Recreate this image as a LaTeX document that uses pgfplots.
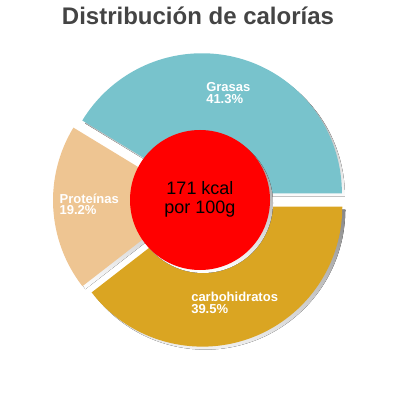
\documentclass[border=0pt]{standalone}
\usepackage{fontspec}
\setmainfont{Liberation Sans}
\usepackage{pgfplots}
\usepackage{pgfplotstable}
\pgfplotsset{compat=1.18}

\definecolor{grasas}{RGB}{120,195,204}
\definecolor{proteinas}{RGB}{238,197,146}
\definecolor{carbos}{RGB}{218,165,34}
\definecolor{shade}{RGB}{100,100,100}
\definecolor{titlegray}{RGB}{68,68,68}

% slice, share in %, label anchor (px, y down)
\pgfplotstableread[col sep=comma]{
name,value,lx,ly,col
Grasas,41.3,206,91.7,grasas
Proteínas,19.2,59.3,203.3,proteinas
carbohidratos,39.5,191,301.7,carbos
}\kcaltable

% 1 px = 0.25mm
\def\R{35mm}
\def\explode{1.75mm}

\begin{document}
\begin{tikzpicture}
% cumulative angles from the shares
\xdef\acc{0}
\foreach \i in {0,1,2}{
  \pgfplotstablegetelem{\i}{value}\of\kcaltable
  \let\v\pgfplotsretval
  \pgfmathsetmacro\sweep{\v*3.6}
  \pgfmathsetmacro\endang{\acc+\sweep}
  \pgfmathsetmacro\midang{\acc+\sweep/2}
  \expandafter\xdef\csname sA\i\endcsname{\acc}
  \expandafter\xdef\csname eA\i\endcsname{\endang}
  \expandafter\xdef\csname mA\i\endcsname{\midang}
  \expandafter\xdef\csname val\i\endcsname{\v}
  \pgfplotstablegetelem{\i}{name}\of\kcaltable
  \expandafter\xdef\csname nm\i\endcsname{\pgfplotsretval}
  \pgfplotstablegetelem{\i}{lx}\of\kcaltable
  \expandafter\xdef\csname lx\i\endcsname{\pgfplotsretval}
  \pgfplotstablegetelem{\i}{ly}\of\kcaltable
  \expandafter\xdef\csname ly\i\endcsname{\pgfplotsretval}
  \pgfplotstablegetelem{\i}{col}\of\kcaltable
  \expandafter\xdef\csname cl\i\endcsname{\pgfplotsretval}
  \xdef\acc{\endang}
}
\begin{axis}[
    width=100mm, height=100mm,
    scale only axis,
    xmin=0, xmax=400, ymin=0, ymax=400,
    y dir=reverse,
    hide axis,
    clip=false,
]
\path (axis cs:0,0) rectangle (axis cs:400,400);
% shadows
\pgfplotsinvokeforeach{0,1,2}{
  \fill[shade] (axis cs:200,200) ++(\csname mA#1\endcsname:\explode) ++(0.75mm,-0.75mm)
    -- ++(\csname sA#1\endcsname:\R)
    arc[start angle=\csname sA#1\endcsname, end angle=\csname eA#1\endcsname, radius=\R] -- cycle;
}
% slices
\pgfplotsinvokeforeach{0,1,2}{
  \fill[color=\csname cl#1\endcsname] (axis cs:200,200) ++(\csname mA#1\endcsname:\explode)
    -- ++(\csname sA#1\endcsname:\R)
    arc[start angle=\csname sA#1\endcsname, end angle=\csname eA#1\endcsname, radius=\R] -- cycle;
}
% centre disc
\fill[shade] (axis cs:200,200) ++(0.75mm,-0.75mm) circle[radius=17.5mm];
\fill[red] (axis cs:200,200) circle[radius=17.5mm];
% slice labels
\pgfplotsinvokeforeach{0,1,2}{
  \node[anchor=base west, inner sep=0, text=white, font=\fontsize{9.25}{11}\selectfont\bfseries]
    at (axis cs:\csname lx#1\endcsname,\csname ly#1\endcsname) {\csname nm#1\endcsname};
  \node[anchor=base west, inner sep=0, text=white, font=\fontsize{9.25}{11}\selectfont\bfseries]
    at (axis cs:\csname lx#1\endcsname,\csname ly#1\endcsname+11.5) {\csname val#1\endcsname\%};
}
\node[anchor=base, inner sep=0, font=\fontsize{12.8}{15}\selectfont] at (axis cs:200,195) {171 kcal};
\node[anchor=base, inner sep=0, font=\fontsize{12.8}{15}\selectfont] at (axis cs:200,213.5) {por 100g};
\node[anchor=base, inner sep=0, text=titlegray, font=\fontsize{17.07}{20}\selectfont\bfseries]
  at (axis cs:198,25) {Distribución de calorías};
\end{axis}
\end{tikzpicture}
\end{document}
